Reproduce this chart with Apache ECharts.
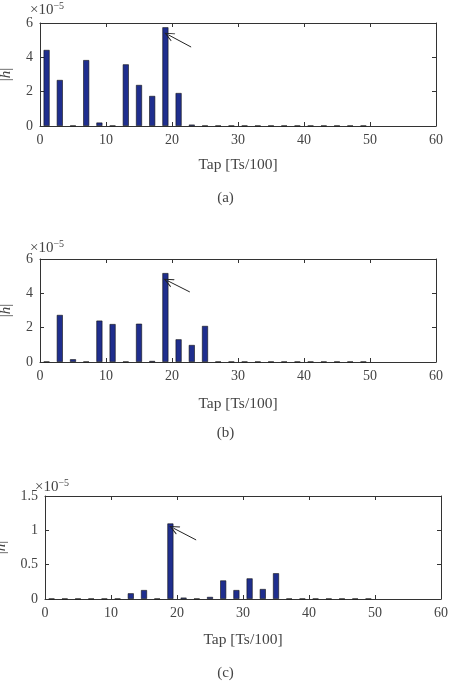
<!DOCTYPE html>
<html>
<head>
	<meta charset="UTF-8">
	<title></title>
	<script type="text/javascript" src="https://cdn.jsdelivr.net/npm/echarts@6/dist/echarts.min.js"></script>
	<style>
		html,body{margin:0;padding:0;background:#fff;}
		#chart_box{width:451px;height:681px;}
	</style>
</head>
<body>
<div id="chart_box"></div>
</body>
</html>
<script>
	// taps (odd positions), values in units of 1e-5
	var taps = [1,3,5,7,9,11,13,15,17,19,21,23,25,27,29,31,33,35,37,39,41,43,45,47,49];
	var valuesA = [4.43,2.68,0.02,3.84,0.2,0.02,3.59,2.39,1.75,5.75,1.92,0.08,
	               0.02,0.02,0.02,0.02,0.02,0.02,0.02,0.02,0.02,0.02,0.02,0.02,0.02];
	var valuesB = [0.02,2.74,0.16,0.02,2.41,2.21,0.02,2.23,0.06,5.18,1.32,0.99,2.1,
	               0.02,0.02,0.02,0.02,0.02,0.02,0.02,0.02,0.02,0.02,0.02,0.02];
	var valuesC = [0.005,0.005,0.005,0.005,0.005,0.005,0.083,0.13,0.005,1.1,0.02,0.005,0.03,
	               0.27,0.13,0.3,0.145,0.375,0.005,0.005,0.005,0.005,0.005,0.005,0.005];
	var yMaxAB = 6, yStepAB = 2;
	var yMaxC = 1.5, yStepC = 0.5;
	// arrow annotations [tail, head] in data coordinates
	var arrowA = [[22.9,4.6],[19.5,5.3]];
	var arrowB = [[22.7,4.08],[19.4,4.72]];
	var arrowC = [[22.9,0.86],[19.5,1.03]];

	var font = 'Liberation Serif';
	var txt = '#444';
	var panels = [
		{vals: valuesA, arrow: arrowA, max: yMaxAB, step: yStepAB, left: 40, top: 23, gap: 26, xgap: 31, cap: '(a)', capTop: 186, scaleTop: -4, scaleLeft: 25},
		{vals: valuesB, arrow: arrowB, max: yMaxAB, step: yStepAB, left: 40, top: 259, gap: 26, xgap: 34, cap: '(b)', capTop: 421, scaleTop: 234, scaleLeft: 25},
		{vals: valuesC, arrow: arrowC, max: yMaxC, step: yStepC, left: 45, top: 496, gap: 36, xgap: 33, cap: '(c)', capTop: 661, scaleTop: 473, scaleLeft: 30}
	];
	var chevron = 'path://M5,0 L10,11 L8.8,11 L5,2.6 L1.2,11 L0,11 Z';

	var grids = [], xAxes = [], yAxes = [], series = [], titles = [];
	panels.forEach(function(p, i){
		grids.push({left: p.left, top: p.top, width: 396, height: 103, outerBoundsMode: 'none', containLabel: false});
		var lineStyle = {color: '#333', width: 1};
		xAxes.push({
			type: 'value', gridIndex: i, position: 'bottom', min: 0, max: 60, interval: 10,
			axisLine: {show: true, onZero: false, lineStyle: lineStyle},
			axisTick: {inside: true, length: 4, lineStyle: lineStyle},
			axisLabel: {color: txt, fontFamily: font, fontSize: 14, margin: 7},
			splitLine: {show: false},
			name: 'Tap [Ts/100]', nameLocation: 'middle', nameGap: p.xgap,
			nameTextStyle: {color: txt, fontFamily: font, fontSize: 15.5}
		});
		xAxes.push({
			type: 'value', gridIndex: i, position: 'top', min: 0, max: 60, interval: 10,
			axisLine: {show: true, onZero: false, lineStyle: lineStyle},
			axisTick: {inside: true, length: 4, lineStyle: lineStyle},
			axisLabel: {show: false}, splitLine: {show: false}
		});
		yAxes.push({
			type: 'value', gridIndex: i, position: 'left', min: 0, max: p.max, interval: p.step,
			axisLine: {show: true, onZero: false, lineStyle: lineStyle},
			axisTick: {inside: true, length: 4, lineStyle: lineStyle},
			axisLabel: {color: txt, fontFamily: font, fontSize: 14, margin: 7},
			splitLine: {show: false},
			name: '|{i|h}|', nameLocation: 'middle', nameGap: p.gap,
			nameTextStyle: {color: txt, fontFamily: font, fontSize: 15,
				rich: {i: {fontStyle: 'italic', fontFamily: font, fontSize: 15, color: txt}}}
		});
		yAxes.push({
			type: 'value', gridIndex: i, position: 'right', min: 0, max: p.max, interval: p.step,
			axisLine: {show: true, onZero: false, lineStyle: lineStyle},
			axisTick: {inside: true, length: 4, lineStyle: lineStyle},
			axisLabel: {show: false}, splitLine: {show: false}
		});
		series.push({
			type: 'bar', xAxisIndex: i * 2, yAxisIndex: i * 2, barWidth: 6,
			data: taps.map(function(t, k){ return [t, p.vals[k]]; }),
			itemStyle: {color: '#1f2e8e', borderColor: '#111', borderWidth: 0.6},
			silent: true,
			markLine: {
				silent: true, animation: false,
				symbol: ['none', chevron], symbolSize: [9, 10],
				lineStyle: {color: '#222', width: 1, type: 'solid'},
				label: {show: false},
				data: [[{coord: p.arrow[0]}, {coord: p.arrow[1]}]]
			}
		});
		titles.push({
			text: p.cap, left: 'center', top: p.capTop,
			textStyle: {color: txt, fontFamily: font, fontSize: 15, fontWeight: 'normal'}
		});
		titles.push({
			text: '×10{s|−5}', left: p.scaleLeft, top: p.scaleTop,
			textStyle: {color: txt, fontFamily: font, fontSize: 15, fontWeight: 'normal',
				rich: {s: {fontSize: 10, verticalAlign: 'top', padding: [0, 0, 8, 0], color: txt, fontFamily: font}}}
		});
	});

	var myChart = echarts.init(document.getElementById('chart_box'));
	var option = {
		animation: false,
		backgroundColor: '#fff',
		title: titles,
		grid: grids,
		xAxis: xAxes,
		yAxis: yAxes,
		series: series
	};
	myChart.setOption(option);
</script>
